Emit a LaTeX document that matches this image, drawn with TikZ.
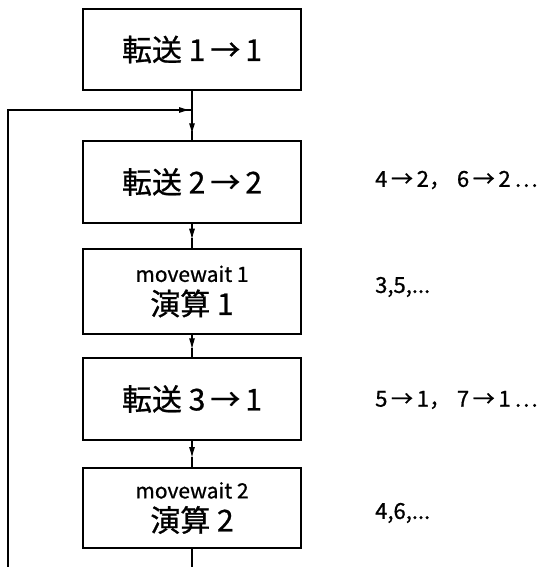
\documentclass[tikz,border=0pt]{standalone}
\usepackage{fontspec}
\setmainfont{Noto Sans CJK JP}[FakeBold=0.8]
\usetikzlibrary{arrows.meta,calc}
\begin{document}
\begin{tikzpicture}[x=1pt,y=-1pt,
  box/.style={draw,line width=1.2pt,minimum width=218pt,inner sep=0pt,anchor=center,align=center},
  big/.style={font=\fontsize{30}{34}\selectfont},
  side/.style={anchor=west,font=\fontsize{22}{24}\selectfont,inner sep=0pt},
  conn/.style={line width=1.1pt},
  tip/.style={conn,-{Latex[length=11pt,width=6pt]}}]
\useasboundingbox (0,0) rectangle (555,567);
\node[box,big,minimum height=81pt] (b1) at (192,49.5) {転送 1\,→\,1};
\node[box,big,minimum height=82pt] (b2) at (192,182) {転送 2\,→\,2};
\node[box,font=\fontsize{30}{33}\selectfont,minimum height=85pt] (b3) at (192,291.5)
  {{\fontsize{21}{33}\selectfont movewait 1}\\演算 1};
\node[box,big,minimum height=82pt] (b4) at (192,399) {転送 3\,→\,1};
\node[box,font=\fontsize{30}{33}\selectfont,minimum height=80pt] (b5) at (192,508)
  {{\fontsize{21}{33}\selectfont movewait 2}\\演算 2};
\node[side] (l2) at (375,180) {4\,→\,2，\hspace{6pt}6\,→\,2\,…};
\node[side] (l3) at (375,287) {3,5,...};
\node[side] (l4) at (375,400) {5\,→\,1，\hspace{6pt}7\,→\,1\,…};
\node[side] (l5) at (375,513) {4,6,...};
\coordinate (bot) at (192,567);
\coordinate (botl) at (8,567);
\coordinate (topl) at (8,110);
\coordinate (j) at (192,110);
\draw[conn] (b1.south) -- (j);
\draw[tip] (j) -- ($(j)!0.8!(b2.north)$);
\draw[conn] ($(j)!0.7!(b2.north)$) -- (b2.north);
\draw[tip] (b2.south) -- ($(b2.south)!0.65!(b3.north)$);
\draw[conn] ($(b2.south)!0.6!(b3.north)$) -- (b3.north);
\draw[tip] (b3.south) -- ($(b3.south)!0.65!(b4.north)$);
\draw[conn] ($(b3.south)!0.6!(b4.north)$) -- (b4.north);
\draw[tip] (b4.south) -- ($(b4.south)!0.65!(b5.north)$);
\draw[conn] ($(b4.south)!0.6!(b5.north)$) -- (b5.north);
\draw[conn] (b5.south) -- (bot);
\draw[conn] (botl) -- (topl) -- (j);
\draw[tip] (topl) -- ($(j)+(-2,0)$);
\end{tikzpicture}
\end{document}
